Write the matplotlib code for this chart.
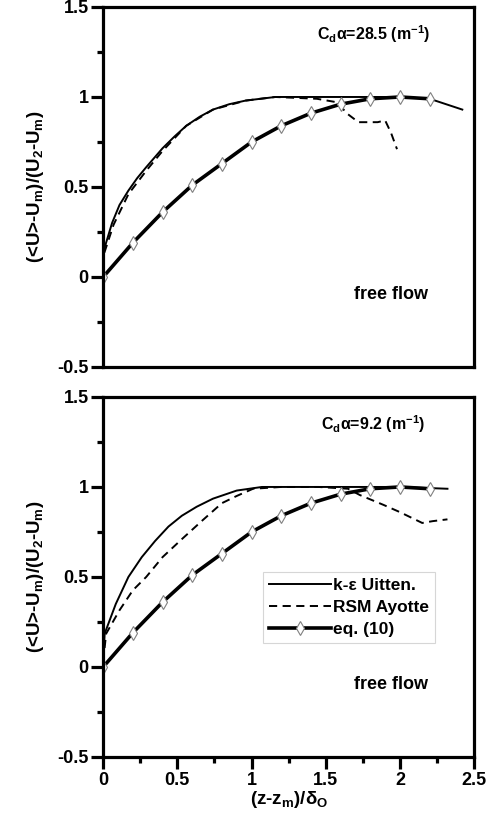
import numpy as np
import matplotlib.pyplot as plt
from matplotlib.ticker import MultipleLocator

plt.rc('font', family='Liberation Sans', weight='bold')
plt.rc('axes', labelweight='bold')
plt.rc('mathtext', fontset='custom', rm='Liberation Sans:bold',
       bf='Liberation Sans:bold', it='Liberation Sans:bold', default='rm')

# eq. (10) profile, same in both panels
eq_x = [0, 0.2, 0.4, 0.6, 0.8, 1.0, 1.2, 1.4, 1.6, 1.8, 2.0, 2.2]
eq_y = [0, 0.19, 0.36, 0.51, 0.63, 0.75, 0.84, 0.91, 0.96, 0.99, 1.0, 0.99]

# Cd a = 28.5
ke_x_a = [0, 0.005, 0.06, 0.11, 0.17, 0.23, 0.29, 0.40, 0.48, 0.56, 0.65, 0.74, 0.85, 0.96, 1.16, 1.6, 2.0, 2.2, 2.42]
ke_y_a = [0.08, 0.15, 0.30, 0.40, 0.48, 0.55, 0.61, 0.715, 0.78, 0.84, 0.89, 0.93, 0.96, 0.98, 1.0, 1.0, 1.0, 0.99, 0.93]
rsm_x_a = [0, 0.01, 0.07, 0.17, 0.29, 0.40, 0.56, 0.74, 0.96, 1.16, 1.44, 1.58, 1.64, 1.72, 1.85, 1.9, 1.94, 1.98]
rsm_y_a = [0.06, 0.14, 0.29, 0.46, 0.59, 0.70, 0.84, 0.93, 0.98, 1.0, 0.99, 0.97, 0.91, 0.86, 0.86, 0.87, 0.8, 0.71]

# Cd a = 9.2
ke_x_b = [0, 0.01, 0.085, 0.17, 0.26, 0.35, 0.44, 0.53, 0.63, 0.74, 0.90, 1.07, 1.3, 1.6, 2.0, 2.32]
ke_y_b = [0.05, 0.185, 0.35, 0.50, 0.61, 0.70, 0.78, 0.84, 0.89, 0.935, 0.98, 1.0, 1.0, 1.0, 1.0, 0.99]
rsm_x_b = [0, 0.02, 0.11, 0.20, 0.29, 0.40, 0.53, 0.67, 0.80, 0.90, 1.01, 1.2, 1.45, 1.65, 1.73, 1.89, 2.0, 2.15, 2.22, 2.32]
rsm_y_b = [0.03, 0.185, 0.315, 0.426, 0.50, 0.61, 0.71, 0.815, 0.91, 0.95, 0.99, 1.0, 1.0, 0.99, 0.955, 0.9, 0.86, 0.8, 0.81, 0.82]

panels = [
    (ke_x_a, ke_y_a, rsm_x_a, rsm_y_a, r'C$_d$α=28.5 (m$^{-1}$)'),
    (ke_x_b, ke_y_b, rsm_x_b, rsm_y_b, r'C$_d$α=9.2 (m$^{-1}$)'),
]

fig = plt.figure(figsize=(4.96, 8.21), dpi=100)
ax_top = fig.add_axes([0.208, 0.553, 0.748, 0.4385])
ax_bot = fig.add_axes([0.208, 0.078, 0.748, 0.4385])

for ax, (kx, ky, rx, ry, lab) in zip([ax_top, ax_bot], panels):
    ax.plot(kx, ky, color='black', lw=1.4, label='k-ε Uitten.')
    ax.plot(rx, ry, color='black', lw=1.4, dashes=(4.2, 2.8), label='RSM Ayotte')
    ax.plot(eq_x, eq_y, color='black', lw=2.6, marker='d', ms=7,
            mfc='white', mec='#808080', mew=0.8, label='eq. (10)')
    ax.set_xlim(0, 2.5)
    ax.set_ylim(-0.5, 1.5)
    ax.yaxis.set_major_locator(MultipleLocator(0.5))
    ax.yaxis.set_minor_locator(MultipleLocator(0.25))
    ax.xaxis.set_major_locator(MultipleLocator(0.5))
    ax.xaxis.set_minor_locator(MultipleLocator(0.25))
    ax.yaxis.set_major_formatter(plt.FuncFormatter(lambda v, p: '%g' % v))
    ax.xaxis.set_major_formatter(plt.FuncFormatter(lambda v, p: '%g' % v))
    for s in ax.spines.values():
        s.set_linewidth(2.3)
    ax.tick_params(which='major', direction='out', length=8.5, width=2.3, labelsize=13, pad=2)
    ax.tick_params(which='minor', direction='out', length=4.5, width=2.3)
    ax.set_ylabel(r'(<U>-U$_m$)/(U$_2$-U$_m$)', fontsize=13.5, labelpad=8)
    ax.text(1.82, 1.35, lab, fontsize=11.5, ha='center', va='center')
    ax.text(1.94, -0.1, 'free flow', fontsize=13, ha='center', va='center')

ax_top.tick_params(axis='x', which='both', bottom=False, labelbottom=False)
ax_bot.set_xlabel(r'(z-z$_m$)/δ$_O$', fontsize=13.5, labelpad=0)

leg = ax_bot.legend(loc='upper left', bbox_to_anchor=(0.43, 0.514), fontsize=12.5,
                    handlelength=3.6, handletextpad=0.1, borderpad=0.35,
                    labelspacing=0.4, fancybox=False, edgecolor='#cccccc',
                    borderaxespad=0)
leg.get_frame().set_linewidth(0.8)

plt.savefig('out.png', dpi=100)
